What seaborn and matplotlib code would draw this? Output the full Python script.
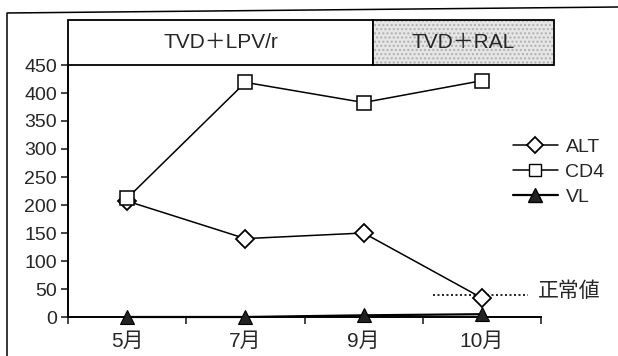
import matplotlib
matplotlib.use("Agg")
import matplotlib.pyplot as plt
from matplotlib.patches import Rectangle
from matplotlib.lines import Line2D
import seaborn as sns
import pandas as pd

months = ["5月", "7月", "9月", "10月"]
alt = [207, 140, 150, 34]
cd4 = [212, 419, 383, 422]
vl = [0, 0, 3, 5]
normal_value = 40
regimens = ["TVD＋LPV/r", "TVD＋RAL"]
yticks = [0, 50, 100, 150, 200, 250, 300, 350, 400, 450]

sns.set_style("white")
plt.rcParams["font.family"] = ["Liberation Sans", "Noto Sans CJK JP", "DejaVu Sans"]

W, H = 618, 356
FS = 14
fig = plt.figure(figsize=(W / 100, H / 100), dpi=100)
ax = fig.add_axes([68 / W, 1 - 317 / H, (541 - 68) / W, (317 - 65) / H])

df = pd.DataFrame({"x": range(len(months)), "ALT": alt, "CD4": cd4, "VL": vl})

sns.lineplot(data=df, x="x", y="ALT", ax=ax, color="black", lw=1.1,
             marker="D", markersize=9, markerfacecolor="white",
             markeredgecolor="black", markeredgewidth=1.3, clip_on=False, zorder=3)
sns.lineplot(data=df, x="x", y="CD4", ax=ax, color="black", lw=1.1,
             marker="s", markersize=10, markerfacecolor="white",
             markeredgecolor="black", markeredgewidth=1.1, clip_on=False, zorder=3)
sns.lineplot(data=df, x="x", y="VL", ax=ax, color="black", lw=1.6,
             marker="^", markersize=10.5, markerfacecolor="#222222",
             markeredgecolor="black", markeredgewidth=0.8, clip_on=False, zorder=4)

ax.set_xlim(-0.5, len(months) - 0.5)
ax.set_ylim(0, 450)
ax.set_yticks(yticks)
ax.set_yticklabels([str(v) for v in yticks], fontsize=FS)
ax.set_xticks(range(len(months)))
ax.set_xticklabels(months, fontsize=15)
ax.set_xticks([i - 0.5 for i in range(len(months) + 1)], minor=True)
ax.tick_params(axis="x", which="major", length=0, pad=11)
ax.tick_params(axis="x", which="minor", length=5, width=1.2, direction="out", bottom=True)
ax.tick_params(axis="y", length=5, width=1.2, direction="out", left=True, pad=3)
ax.set_xlabel("")
ax.set_ylabel("")
for s in ["top", "right"]:
    ax.spines[s].set_visible(False)
for s in ["left", "bottom"]:
    ax.spines[s].set_color("black")
    ax.spines[s].set_linewidth(1.4)

# normal value dotted line
ax.plot([2.59, 3.39], [normal_value, normal_value], ls=(0, (1.2, 1.5)),
        color="black", lw=1.2, clip_on=False)
ax.text(3.47, normal_value + 6, "正常値", fontsize=15, va="center", ha="left",
        family=["Noto Sans CJK JP"])

# legend
handles = [
    Line2D([], [], color="black", lw=1.1, marker="D", markersize=8,
           markerfacecolor="white", markeredgecolor="black", markeredgewidth=1.3),
    Line2D([], [], color="black", lw=1.1, marker="s", markersize=9,
           markerfacecolor="white", markeredgecolor="black"),
    Line2D([], [], color="black", lw=1.6, marker="^", markersize=9.5,
           markerfacecolor="#222222", markeredgecolor="black"),
]
fig.legend(handles, ["ALT", "CD4", "VL"], loc="upper left",
           bbox_to_anchor=(513 / W, 1 - 138 / H), frameon=False, borderpad=0,
           borderaxespad=0, fontsize=FS, handlelength=2.3, handletextpad=0.4,
           labelspacing=0.38)

# regimen header boxes
top, bot = 1 - 20 / H, 1 - 65 / H
x0, x1, x2 = 68 / W, 373 / W, 554 / W
fig.add_artist(Rectangle((x0, bot), x1 - x0, top - bot, transform=fig.transFigure,
                         facecolor="white", edgecolor="black", lw=1.3))
fig.add_artist(Rectangle((x1, bot), x2 - x1, top - bot, transform=fig.transFigure,
                         facecolor="#e6e6e6", edgecolor="#b0b0b0", hatch="....",
                         lw=0))
fig.add_artist(Rectangle((x1, bot), x2 - x1, top - bot, transform=fig.transFigure,
                         facecolor="none", edgecolor="black", lw=1.3))
fig.text((x0 + x1) / 2, (top + bot) / 2, regimens[0], ha="center", va="center",
         fontsize=15)
fig.text((x1 + x2) / 2, (top + bot) / 2, regimens[1], ha="center", va="center",
         fontsize=15)

# outer frame
fig.add_artist(Line2D([7 / W, 7 / W, 1.0], [0, 1 - 13 / H, 1 - 7 / H],
                      transform=fig.transFigure, color="black", lw=1.1))

fig.savefig("out.png", dpi=100)
